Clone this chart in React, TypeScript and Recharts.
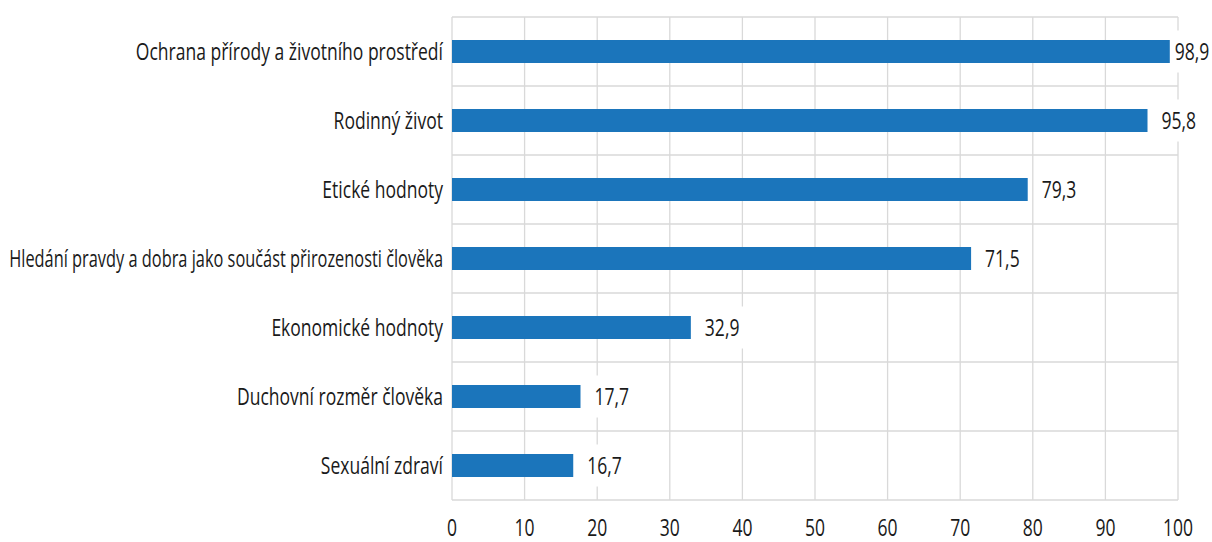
import React from 'react';
import { BarChart, Bar, XAxis, YAxis, CartesianGrid, LabelList } from 'recharts';

const categories = [
  'Ochrana přírody a životního prostředí',
  'Rodinný život',
  'Etické hodnoty',
  'Hledání pravdy a dobra jako součást přirozenosti člověka',
  'Ekonomické hodnoty',
  'Duchovní rozměr člověka',
  'Sexuální zdraví',
];
const values = [98.9, 95.8, 79.3, 71.5, 32.9, 17.7, 16.7];
const xTicks = [0, 10, 20, 30, 40, 50, 60, 70, 80, 90, 100];

const data = categories.map((name, i) => ({ name, value: values[i] }));

const FONT = '"Open Sans", "Noto Sans", sans-serif';
const FONT_SIZE = 24;
const SQUEEZE = 0.73; // condensed look, no narrow font installed
const LABEL_MAX_W = 434; // room left of the plot for category names
const CHART_W = 1212;
const CHART_H = 542;
const GRID = '#d9d9d9';
const INK = '#1a1a1a';

const fmt = (v: number) => v.toFixed(1).replace('.', ',');

let measureCtx: CanvasRenderingContext2D | null = null;
const measure = (s: string) => {
  if (!measureCtx) {
    measureCtx = document.createElement('canvas').getContext('2d');
  }
  if (!measureCtx) return 0;
  measureCtx.font = `${FONT_SIZE}px ${FONT}`;
  return measureCtx.measureText(s).width;
};

// text drawn squeezed horizontally around its anchor point
const Squeezed = ({ x, y, anchor, squeeze = SQUEEZE, children }: any) => (
  <g transform={`translate(${x},${y}) scale(${squeeze},1)`}>
    <text x={0} y={0} textAnchor={anchor} fontFamily={FONT} fontSize={FONT_SIZE} fill={INK}>
      {children}
    </text>
  </g>
);

const CategoryTick = (props: any) => {
  const { x, y, payload } = props;
  const w = measure(payload.value);
  const squeeze = w > 0 ? Math.min(SQUEEZE, LABEL_MAX_W / w) : SQUEEZE;
  return (
    <Squeezed x={x} y={y + FONT_SIZE * 0.36} anchor="end" squeeze={squeeze}>
      {payload.value}
    </Squeezed>
  );
};

const ValueTick = (props: any) => {
  const { x, y, payload } = props;
  return (
    <Squeezed x={x} y={y + 36} anchor="middle">
      {payload.value}
    </Squeezed>
  );
};

// value label with a white box behind it, kept inside the chart
const ValueLabel = (props: any) => {
  const { x, y, width, height, value } = props;
  const text = fmt(value);
  const textW = text.length * 8.8;
  let lx = x + width + 14;
  if (lx + textW > CHART_W - 2) lx = CHART_W - 2 - textW;
  const cy = y + height / 2;
  return (
    <g>
      <rect x={lx - 5} y={cy - 21} width={textW + 10} height={42} fill="#fff" />
      <Squeezed x={lx} y={cy + FONT_SIZE * 0.36} anchor="start">
        {text}
      </Squeezed>
    </g>
  );
};

export default function App() {
  return (
    <div style={{ position: 'absolute', left: 0, top: 0, background: '#fff' }}>
      <BarChart
        width={CHART_W}
        height={CHART_H}
        data={data}
        layout="vertical"
        margin={{ top: 17, right: 34, bottom: 0, left: 0 }}
        barSize={23}
      >
        <CartesianGrid
          stroke={GRID}
          strokeWidth={1.3}
          horizontalCoordinatesGenerator={({ offset }: any) =>
            Array.from({ length: categories.length + 1 }, (_, i) => offset.top + (i * offset.height) / categories.length)
          }
        />
        <XAxis
          type="number"
          domain={[0, 100]}
          ticks={xTicks}
          axisLine={false}
          tickLine={false}
          tickSize={0}
          tickMargin={0}
          height={42}
          interval={0}
          tick={<ValueTick />}
        />
        <YAxis
          type="category"
          dataKey="name"
          width={452}
          axisLine={false}
          tickLine={false}
          tickSize={0}
          tickMargin={9}
          interval={0}
          tick={<CategoryTick />}
        />
        <Bar dataKey="value" fill="#1B75BB" isAnimationActive={false}>
          <LabelList dataKey="value" content={<ValueLabel />} />
        </Bar>
      </BarChart>
    </div>
  );
}
